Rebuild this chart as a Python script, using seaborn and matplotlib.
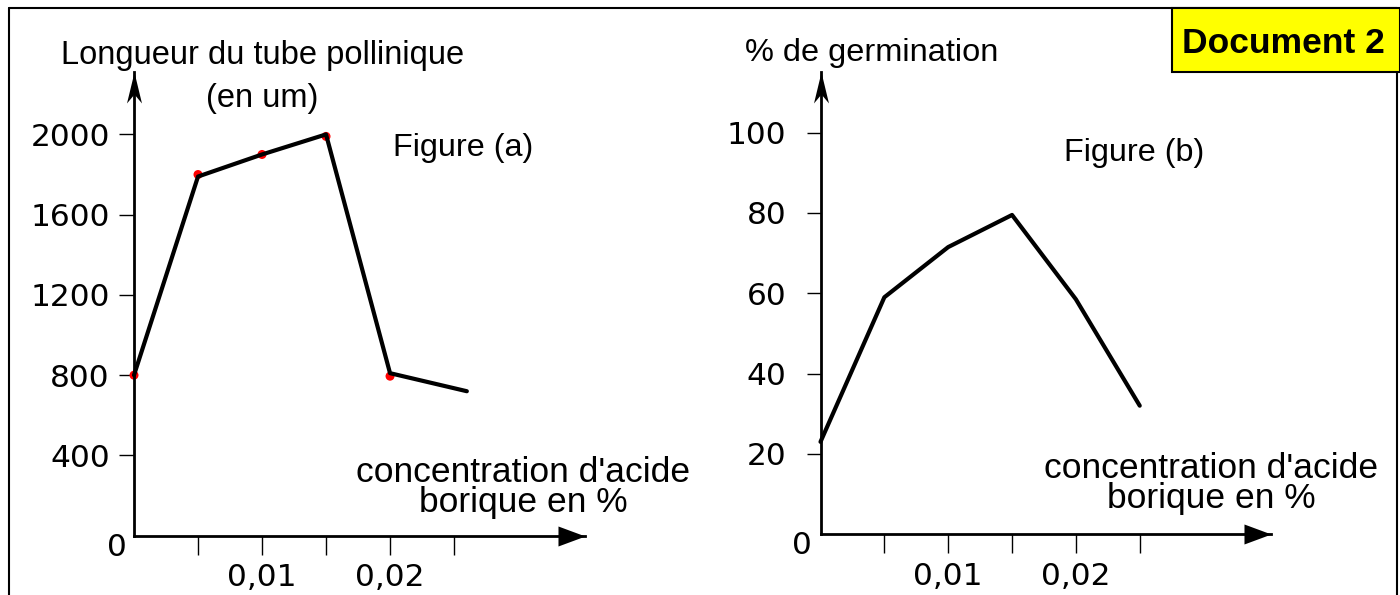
import matplotlib
matplotlib.use("Agg")
import matplotlib.pyplot as plt
import seaborn as sns
import pandas as pd
from matplotlib.path import Path
from matplotlib.patches import Rectangle
from matplotlib.lines import Line2D

# ---------------- data ----------------
conc_a = [0.0, 0.005, 0.01, 0.015, 0.02, 0.026]
longueur = [800, 1790, 1900, 2000, 810, 720]
conc_pts = [0.0, 0.005, 0.01, 0.015, 0.02]
longueur_pts = [800, 1800, 1900, 1990, 795]

conc_b = [0.0, 0.005, 0.01, 0.015, 0.02, 0.025]
germination = [23, 59, 71.5, 79.5, 58.5, 32]

yticks_a = [400, 800, 1200, 1600, 2000]
yticks_b = [20, 40, 60, 80, 100]
xticks = [0.005, 0.01, 0.015, 0.02, 0.025]
xtick_labels = ["", "0,01", "", "0,02", ""]

# ---------------- style ----------------
W, H = 1400, 595
sns.set_theme(style="white")
plt.rcParams['font.family'] = ['Liberation Sans', 'DejaVu Sans']
plt.rcParams['text.color'] = 'black'
plt.rcParams['axes.labelcolor'] = 'black'
plt.rcParams['xtick.color'] = 'black'
plt.rcParams['ytick.color'] = 'black'
NUM_FONT = 'DejaVu Sans'
NUM_SIZE = 22.5

fig = plt.figure(figsize=(W / 100, H / 100), dpi=100)
fig.patch.set_facecolor('white')


def fx(px):
    return px / W


def fy(py):
    return 1 - py / H


ax_a = fig.add_axes([fx(134), fy(535.7), (585 - 134) / W, (535.7 - 72) / H])
ax_b = fig.add_axes([fx(820.5), fy(534.2), (1271 - 820.5) / W, (534.2 - 72) / H])

# arrowhead markers
xarrow = Path([(0, 0), (-27, 10), (-27, -10), (0, 0)],
              [Path.MOVETO, Path.LINETO, Path.LINETO, Path.CLOSEPOLY])
yarrow = Path([(0, 0), (7.5, -31), (0, -22), (-7.5, -31), (0, 0)],
              [Path.MOVETO, Path.LINETO, Path.LINETO, Path.LINETO, Path.CLOSEPOLY])


def style_axes(ax, xmax, ymax, yticks, ylen, ypad):
    ax.patch.set_visible(False)
    ax.set_xlim(0, xmax)
    ax.set_ylim(0, ymax)
    for s in ['top', 'right']:
        ax.spines[s].set_visible(False)
    for s in ['left', 'bottom']:
        ax.spines[s].set_linewidth(2)
        ax.spines[s].set_color('black')
    ax.set_xticks(xticks)
    ax.set_xticklabels(xtick_labels, fontfamily=NUM_FONT, fontsize=NUM_SIZE)
    ax.set_yticks(yticks)
    ax.set_yticklabels([str(v) for v in yticks], fontfamily=NUM_FONT, fontsize=NUM_SIZE)
    ax.tick_params(axis='x', bottom=True, direction='out', length=13.7, width=1,
                   pad=6, colors='black')
    ax.tick_params(axis='y', left=True, direction='out', length=ylen, width=1,
                   pad=ypad, colors='black')
    ax.set_xlabel('')
    ax.set_ylabel('')
    ax.plot([1], [0], transform=ax.transAxes, marker=xarrow, ms=38.9,
            color='black', mew=0, clip_on=False, zorder=6)
    ax.plot([0], [1], transform=ax.transAxes, marker=yarrow, ms=44.6,
            color='black', mew=0, clip_on=False, zorder=6)


# ---------------- Figure (a) ----------------
df_a = pd.DataFrame({'conc': conc_a, 'longueur': longueur})
df_pts = pd.DataFrame({'conc': conc_pts, 'longueur': longueur_pts})
sns.scatterplot(data=df_pts, x='conc', y='longueur', ax=ax_a, color='#ff0000',
                s=42, edgecolor='none', zorder=2, clip_on=False)
sns.lineplot(data=df_a, x='conc', y='longueur', ax=ax_a, color='black', lw=3,
             zorder=3, clip_on=False)
style_axes(ax_a, 0.03523, 2311, yticks_a, 10.8, 6.5)

# ---------------- Figure (b) ----------------
df_b = pd.DataFrame({'conc': conc_b, 'germination': germination})
sns.lineplot(data=df_b, x='conc', y='germination', ax=ax_b, color='black', lw=3,
             zorder=3, clip_on=False)
style_axes(ax_b, 0.03528, 115.1, yticks_b, 10, 14.4)

# origin labels
fig.text(fx(117), fy(547), "0", ha='center', va='center', fontfamily=NUM_FONT, fontsize=NUM_SIZE)
fig.text(fx(801.5), fy(545), "0", ha='center', va='center', fontfamily=NUM_FONT, fontsize=NUM_SIZE)

# ---------------- texts ----------------
xlabel_text = "concentration d'acide\nborique en %"

fig.text(fx(61), fy(64), "Longueur du tube pollinique", fontsize=23.5, ha='left', va='baseline')
fig.text(fx(262), fy(107), "(en um)", fontsize=23.5, ha='center', va='baseline')
fig.text(fx(393), fy(156), "Figure (a)", fontsize=23.3, ha='left', va='baseline')
fig.text(fx(523), fy(512), xlabel_text, fontsize=25.5, ha='center', va='baseline',
         multialignment='center', linespacing=0.9)

fig.text(fx(745), fy(60.5), "% de germination", fontsize=23.4, ha='left', va='baseline')
fig.text(fx(1064), fy(161), "Figure (b)", fontsize=23.3, ha='left', va='baseline')
fig.text(fx(1211), fy(508), xlabel_text, fontsize=25.5, ha='center', va='baseline',
         multialignment='center', linespacing=0.9)

# ---------------- frame & document box ----------------
for xs, ys in [([9, 9], [8, 595]), ([9, 1397], [8, 8]), ([1397, 1397], [8, 595])]:
    fig.add_artist(Line2D([fx(x) for x in xs], [fy(y) for y in ys],
                          transform=fig.transFigure, color='black', lw=1.5, zorder=4))

fig.add_artist(Rectangle((fx(1172), fy(72)), (1400 - 1172) / W, (72 - 8) / H,
                         transform=fig.transFigure, facecolor='#ffff00',
                         edgecolor='black', lw=1.5, zorder=5))
fig.text(fx(1283.5), fy(53), "Document 2", fontsize=25.5, fontweight='bold',
         ha='center', va='baseline', zorder=6)

fig.savefig('out.png', dpi=100)
